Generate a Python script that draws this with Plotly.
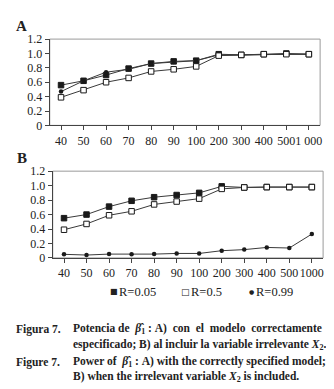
import plotly.graph_objects as go

# ---- data ----
cats_A = ["40", "50", "60", "70", "80", "90", "100", "200", "300", "400", "500", "1 000"]
cats_B = ["40", "50", "60", "70", "80", "90", "100", "200", "300", "400", "500", "1000"]

A_r005 = [0.56, 0.62, 0.70, 0.79, 0.86, 0.89, 0.90, 0.99, 0.98, 0.99, 1.00, 0.99]
A_r05 = [0.39, 0.49, 0.60, 0.66, 0.75, 0.78, 0.82, 0.97, 0.98, 0.99, 0.99, 0.99]
A_r099 = [0.47, 0.62, 0.74, 0.78, 0.86, 0.88, 0.90, 0.98, 0.98, 0.99, 0.99, 0.99]

B_r005 = [0.55, 0.60, 0.71, 0.79, 0.84, 0.87, 0.90, 0.99, 0.975, 0.98, 0.98, 0.98]
B_r05 = [0.39, 0.47, 0.59, 0.645, 0.74, 0.78, 0.82, 0.955, 0.975, 0.98, 0.98, 0.98]
B_r099 = [0.05, 0.04, 0.053, 0.05, 0.053, 0.062, 0.062, 0.10, 0.115, 0.145, 0.137, 0.33]

y_ticks = [0, 0.2, 0.4, 0.6, 0.8, 1.0, 1.2]
y_ticktext = ["0", "0.2", "0.4", "0.6", "0.8", "1.0", "1.2"]

W, H = 334, 389
SERIF = "Liberation Serif, Times New Roman, serif"
LINE_C = "#3a3a3a"

styles = [
    dict(symbol="square", size=5.5, color="#1a1a1a", line=dict(color="#1a1a1a", width=1)),
    dict(symbol="square", size=5.5, color="white", line=dict(color="#1a1a1a", width=1)),
    dict(symbol="circle", size=4.5, color="#1a1a1a", line=dict(color="#1a1a1a", width=0)),
]
names = ["R=0.05", "R=0.5", "R=0.99"]

fig = go.Figure()
for ax, cats, series in [("", cats_A, [A_r005, A_r099, A_r05]),
                         ("2", cats_B, [B_r005, B_r05, B_r099])]:
    order = [0, 2, 1] if ax == "" else [0, 1, 2]
    for s, idx in zip(series, order):
        fig.add_trace(go.Scatter(
            x=cats, y=s, mode="lines+markers", name=names[idx],
            line=dict(color=LINE_C, width=1),
            marker=styles[idx], showlegend=False,
            xaxis="x" + ax, yaxis="y" + ax, cliponaxis=False))

def px_y(y):
    return 1 - y / H

axis_common = dict(showgrid=False, zeroline=False, showline=True, linecolor="#444",
                   linewidth=1, ticks="outside", ticklen=4, tickcolor="#444",
                   tickfont=dict(family=SERIF, size=12, color="#222"))

fig.update_layout(
    width=W, height=H, autosize=False,
    margin=dict(l=0, r=0, t=0, b=0),
    paper_bgcolor="white", plot_bgcolor="white",
    showlegend=False,
    xaxis=dict(axis_common, type="category", domain=[42 / W, 314 / W],
               anchor="y", range=[-0.5, 11.5], tickangle=0),
    yaxis=dict(axis_common, domain=[px_y(114.5), px_y(25)], anchor="x",
               range=[0, 1.2], tickvals=y_ticks, ticktext=y_ticktext),
    xaxis2=dict(axis_common, type="category", domain=[45 / W, 317 / W],
                anchor="y2", range=[-0.5, 11.5], tickangle=0),
    yaxis2=dict(axis_common, domain=[px_y(252), px_y(162)], anchor="x2",
                range=[0, 1.2], tickvals=y_ticks, ticktext=y_ticktext),
)

# light frame (top/right)
for xr, yr in [("x domain", "y domain"), ("x2 domain", "y2 domain")]:
    fig.add_shape(type="rect", xref=xr, yref=yr, x0=0, x1=1, y0=0, y1=1,
                  line=dict(color="#9a9a9a", width=1), layer="below")

ann = []
ann.append(dict(text="<b>A</b>", x=6 / W, y=px_y(11), xref="paper", yref="paper",
                xanchor="left", yanchor="middle", showarrow=False,
                font=dict(family=SERIF, size=15, color="#222")))
ann.append(dict(text="<b>B</b>", x=7 / W, y=px_y(148), xref="paper", yref="paper",
                xanchor="left", yanchor="middle", showarrow=False,
                font=dict(family=SERIF, size=15, color="#222")))

# legend (glyph + label as separate texts)
leg = [("■", "R=0.05", 101, 8), ("□", "R=0.5", 172, 9), ("●", "R=0.99", 240, 6)]
for sym, txt, x0, fs in leg:
    ann.append(dict(text=sym, x=x0 / W, y=px_y(287), xref="paper", yref="paper",
                    xanchor="left", yanchor="middle", showarrow=False,
                    font=dict(family="DejaVu Sans", size=fs, color="#222")))
    ann.append(dict(text=txt, x=(x0 + fs + 1) / W, y=px_y(287), xref="paper", yref="paper",
                    xanchor="left", yanchor="middle", showarrow=False,
                    font=dict(family=SERIF, size=12.5, color="#222")))

cap_font = dict(family=SERIF, size=11.5, color="#222")
caption = [
    (6, 326, "<b>Figura 7.</b>"),
    (63, 326, "<b>Potencia de  <i>β̂</i><sub>1</sub> : A)  con  el  modelo  correctamente</b>"),
    (63, 342, "<b>especificado; B) al incluir la variable irrelevante <i>X</i><sub>2</sub>.</b>"),
    (6, 360, "<b>Figure 7.</b>"),
    (63, 360, "<b>Power of  <i>β̂</i><sub>1</sub> : A) with the correctly specified model;</b>"),
    (63, 376, "<b>B) when the irrelevant variable <i>X</i><sub>2</sub> is included.</b>"),
]
for x0, y0, t in caption:
    ann.append(dict(text=t, x=x0 / W, y=px_y(y0), xref="paper", yref="paper",
                    xanchor="left", yanchor="middle", showarrow=False, font=cap_font))

fig.update_layout(annotations=ann)
fig.write_html("out.html")
